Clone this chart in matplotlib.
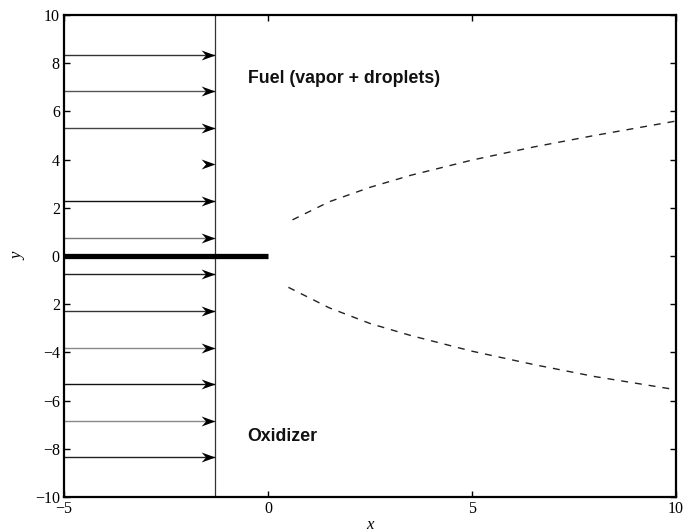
import numpy as np
import matplotlib
matplotlib.use("Agg")
import matplotlib.pyplot as plt
from matplotlib.path import Path

# ---- data ----
arrow_y = [8.36, 6.84, 5.32, 3.80, 2.28, 0.76, -0.76, -2.28, -3.80, -5.32, -6.84, -8.36]
arrow_colors = ["#333333", "#555555", "#444444", None, "#111111", "#777777",
                "#222222", "#333333", "#888888", "#111111", "#888888", "#222222"]
arrow_x_start = -5.0
arrow_x_end = -1.3
plate_x = [-5.0, 0.0]
plate_y = [0.0, 0.0]
upper_x = [0.6, 1.5, 2.5, 3.5, 5.0, 6.5, 8.0, 10.0]
upper_y = [1.50, 2.25, 2.85, 3.35, 3.98, 4.52, 5.00, 5.60]
lower_x = [0.5, 1.5, 2.5, 3.5, 5.0, 6.5, 8.0, 10.0]
lower_y = [-1.30, -2.15, -2.80, -3.30, -3.95, -4.50, -5.00, -5.55]
xticks = [-5, 0, 5, 10]
yticks = [10, 8, 6, 4, 2, 0, -2, -4, -6, -8, -10]
ytick_labels = ["10", "8", "6", "4", "2", "0", "2", "\u22124", "\u22126", "\u22128", "\u221210"]
label_fuel = "Fuel (vapor + droplets)"
label_ox = "Oxidizer"

fig = plt.figure(figsize=(6.95, 5.32), dpi=100)
ax = fig.add_axes([64/695, 35/532, 612/695, 482/532])

# notched arrowhead marker (tip at origin)
head = Path([(0, 0), (-1, 0.36), (-0.68, 0), (-1, -0.36), (0, 0)],
            [Path.MOVETO, Path.LINETO, Path.LINETO, Path.LINETO, Path.CLOSEPOLY])

for yv, c in zip(arrow_y, arrow_colors):
    if c is not None:
        ax.plot([arrow_x_start, arrow_x_end], [yv, yv], color=c, lw=1.0,
                solid_capstyle="butt", zorder=2)
    ax.plot([arrow_x_end], [yv], marker=head, markersize=20, color="black",
            markeredgewidth=0, linestyle="none", zorder=3)

ax.axvline(arrow_x_end, color="#333333", lw=0.9, zorder=2)
ax.plot(plate_x, plate_y, color="black", lw=3.8, solid_capstyle="butt", zorder=4)

ax.plot(upper_x, upper_y, color="#222222", lw=1.0, dashes=(5, 5))
ax.plot(lower_x, lower_y, color="#222222", lw=1.0, dashes=(5, 5))

ax.text(-0.5, 7.35, label_fuel, fontsize=12.8, fontweight="bold",
        family="Liberation Sans", color="#111111", va="center", ha="left")
ax.text(-0.5, -7.5, label_ox, fontsize=12.8, fontweight="bold",
        family="Liberation Sans", color="#111111", va="center", ha="left")

ax.set_xlim(-5, 10)
ax.set_ylim(-10, 10)
ax.set_xticks(xticks)
ax.set_xticklabels([str(v).replace("-", "\u2212") for v in xticks],
                   family="Liberation Serif", fontsize=11.5)
ax.set_yticks(yticks)
ax.set_yticklabels(ytick_labels, family="Liberation Serif", fontsize=11.5)
ax.tick_params(direction="in", length=4, width=1.0, top=True, right=True, pad=3)
for s in ax.spines.values():
    s.set_linewidth(1.6)
ax.set_xlabel("x", family="Liberation Serif", style="italic", fontsize=12, labelpad=0)
ax.set_ylabel("y", family="Liberation Serif", style="italic", fontsize=12, labelpad=6)

fig.savefig("out.png", dpi=100)
